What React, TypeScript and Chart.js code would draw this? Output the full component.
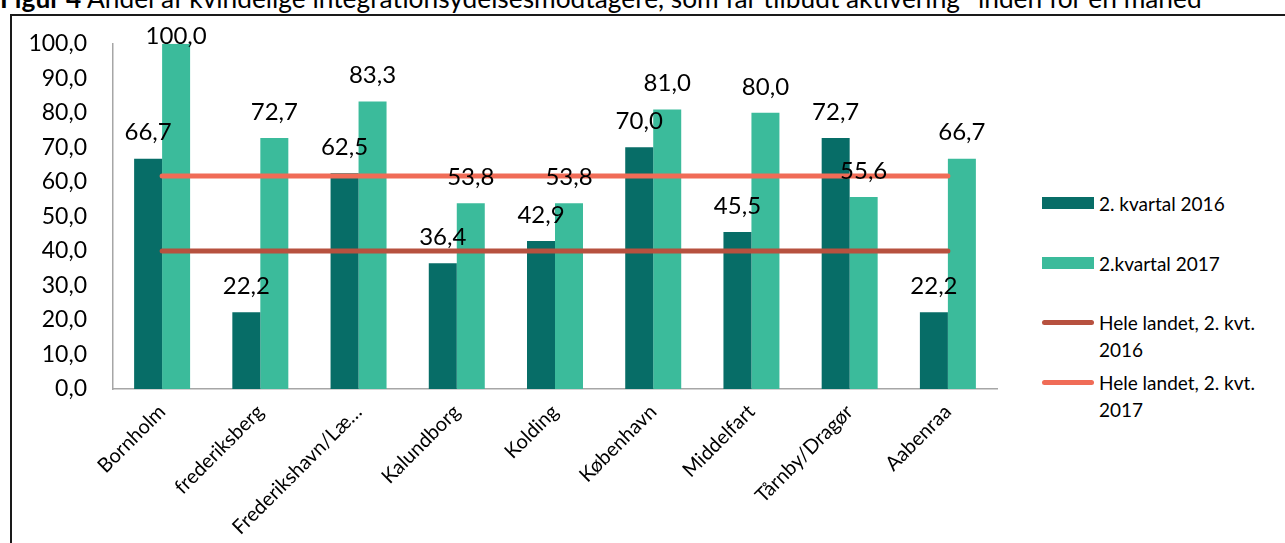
import React, { useEffect, useRef } from "react";
import { Chart, registerables } from "chart.js";

Chart.register(...registerables);

// Kommuner (x-axis categories)
const categories = [
  "Bornholm",
  "frederiksberg",
  "Frederikshavn/Læ…",
  "Kalundborg",
  "Kolding",
  "København",
  "Middelfart",
  "Tårnby/Dragør",
  "Aabenraa",
];

// Share in percent per municipality
const kvartal2016 = [66.7, 22.2, 62.5, 36.4, 42.9, 70.0, 45.5, 72.7, 22.2];
const kvartal2017 = [100.0, 72.7, 83.3, 53.8, 53.8, 81.0, 80.0, 55.6, 66.7];

// National averages
const heleLandet2016 = 40.0;
const heleLandet2017 = 61.7;

const seriesNames = [
  "2. kvartal 2016",
  "2.kvartal 2017",
  "Hele landet, 2. kvt. 2016",
  "Hele landet, 2. kvt. 2017",
];

const COLORS = {
  dark: "#076D67",
  light: "#3BBB9B",
  line2016: "#B7513F",
  line2017: "#F06C57",
};

const FONT = "Lato, 'Open Sans', sans-serif";

const fmt = (v: number) => v.toFixed(1).replace(".", ",");

// Writes the value above every bar (kept just inside the top of the plot)
const barValueLabels = {
  id: "barValueLabels",
  afterDatasetsDraw(chart: any) {
    const ctx = chart.ctx;
    const minY = chart.chartArea.top - 8;
    ctx.save();
    ctx.font = `24px ${FONT}`;
    ctx.fillStyle = "#000";
    ctx.textAlign = "center";
    ctx.textBaseline = "middle";
    chart.data.datasets.forEach((ds: any, i: number) => {
      if (ds.type !== "bar") return;
      const meta = chart.getDatasetMeta(i);
      meta.data.forEach((el: any, j: number) => {
        ctx.fillText(fmt(ds.data[j]), el.x, Math.max(el.y - 26, minY));
      });
    });
    ctx.restore();
  },
};

export default function App() {
  const canvasRef = useRef<HTMLCanvasElement | null>(null);

  useEffect(() => {
    const prevMargin = document.body.style.margin;
    document.body.style.margin = "0";
    const canvas = canvasRef.current;
    if (!canvas) return;
    const chart = new Chart(canvas, {
      type: "bar",
      data: {
        labels: categories,
        datasets: [
          {
            type: "bar",
            label: seriesNames[0],
            data: kvartal2016,
            backgroundColor: COLORS.dark,
            barPercentage: 1,
            categoryPercentage: 0.57,
            order: 1,
          },
          {
            type: "bar",
            label: seriesNames[1],
            data: kvartal2017,
            backgroundColor: COLORS.light,
            barPercentage: 1,
            categoryPercentage: 0.57,
            order: 1,
          },
          {
            type: "line",
            label: seriesNames[2],
            data: categories.map(() => heleLandet2016),
            borderColor: COLORS.line2016,
            borderWidth: 5,
            borderCapStyle: "round",
            pointRadius: 0,
            order: 0,
          },
          {
            type: "line",
            label: seriesNames[3],
            data: categories.map(() => heleLandet2017),
            borderColor: COLORS.line2017,
            borderWidth: 5,
            borderCapStyle: "round",
            pointRadius: 0,
            order: 0,
          },
        ] as any,
      },
      options: {
        responsive: false,
        animation: false,
        layout: { padding: { top: 7, right: 23, left: 0, bottom: 0 } },
        plugins: {
          legend: { display: false },
          tooltip: { enabled: false },
        },
        scales: {
          x: {
            grid: { display: false, drawTicks: false },
            border: { display: true, color: "#A6A6A6", width: 1.5 },
            ticks: {
              autoSkip: false,
              minRotation: 45,
              maxRotation: 45,
              padding: 11,
              color: "#000",
              font: { family: FONT, size: 20 },
            },
            afterFit(scale: any) {
              scale.height = 151;
            },
          },
          y: {
            min: 0,
            max: 100,
            grid: { display: false, drawTicks: false },
            border: { display: true, color: "#A6A6A6", width: 1.5 },
            ticks: {
              stepSize: 10,
              padding: 26,
              color: "#000",
              font: { family: FONT, size: 23 },
              callback: (v: any) => fmt(Number(v)),
            },
            afterFit(scale: any) {
              scale.width = 93;
            },
          },
        },
      },
      plugins: [barValueLabels],
    });
    return () => {
      chart.destroy();
      document.body.style.margin = prevMargin;
    };
  }, []);

  const legendText: React.CSSProperties = {
    position: "absolute",
    left: 1099,
    fontFamily: FONT,
    fontSize: 19,
    lineHeight: "27px",
    color: "#000",
    whiteSpace: "nowrap",
  };
  const swatch = (top: number, h: number, color: string, round: boolean): React.CSSProperties => ({
    position: "absolute",
    left: 1042,
    top,
    width: 52,
    height: h,
    background: color,
    borderRadius: round ? h / 2 : 0,
  });

  return (
    <div
      style={{
        position: "fixed",
        left: 0,
        top: 0,
        width: 1285,
        height: 543,
        background: "#fff",
        overflow: "hidden",
      }}
    >
      <div
        style={{
          position: "absolute",
          left: 0,
          top: -15,
          fontFamily: FONT,
          fontSize: 26.3,
          lineHeight: "26px",
          color: "#000",
          whiteSpace: "nowrap",
        }}
      >
        <b>Figur 4</b> Andel af kvindelige integrationsydelsesmodtagere, som får tilbudt aktivering* inden for en måned
      </div>
      <div
        style={{
          position: "absolute",
          left: 10,
          top: 14,
          width: 1400,
          height: 600,
          border: "2px solid #1a1a1a",
          boxSizing: "border-box",
        }}
      />
      <canvas
        ref={canvasRef}
        width={1000}
        height={536}
        style={{ position: "absolute", left: 20, top: 4, width: 1000, height: 536 }}
      />
      <div style={swatch(197, 12, COLORS.dark, false)} />
      <div style={{ ...legendText, top: 190 }}>{seriesNames[0]}</div>
      <div style={swatch(257, 12, COLORS.light, false)} />
      <div style={{ ...legendText, top: 250 }}>{seriesNames[1]}</div>
      <div style={swatch(320, 5, COLORS.line2016, true)} />
      <div style={{ ...legendText, top: 309 }}>
        Hele landet, 2. kvt.
        <br />
        2016
      </div>
      <div style={swatch(380, 5, COLORS.line2017, true)} />
      <div style={{ ...legendText, top: 369 }}>
        Hele landet, 2. kvt.
        <br />
        2017
      </div>
    </div>
  );
}
